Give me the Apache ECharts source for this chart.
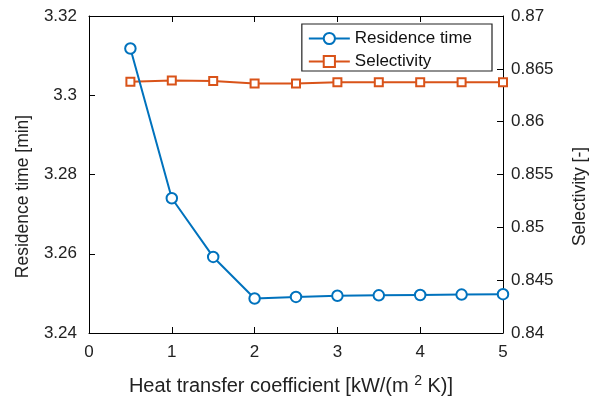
<!DOCTYPE html>
<html>
<head>
<meta charset="utf-8">
<script src="https://cdn.jsdelivr.net/npm/echarts@6/dist/echarts.min.js"></script>
<style>
  html, body { margin: 0; padding: 0; background: #fff; }
  #chart { width: 598px; height: 399px; }
</style>
</head>
<body>
<div id="chart"></div>
<script>
// Heat transfer coefficient, kW/(m^2 K)
const heatCoeff = [0.5, 1, 1.5, 2, 2.5, 3, 3.5, 4, 4.5, 5];
// Residence time, min (left axis)
const residenceTime = [3.3118, 3.2740, 3.2592, 3.2487, 3.2491, 3.2494, 3.2495, 3.2496, 3.2497, 3.2498];
// Selectivity, - (right axis)
const selectivity = [0.86377, 0.86390, 0.86386, 0.86361, 0.86361, 0.86374, 0.86374, 0.86374, 0.86374, 0.86374];

const FONT = '"Liberation Sans", Arial, Helvetica, sans-serif';
const BLUE = '#0072BD';
const ORANGE = '#D95319';

const pairs = (xs, ys) => xs.map((x, i) => [x, ys[i]]);

const axisLine = { show: true, onZero: false, lineStyle: { color: '#000', width: 1 } };
const tickIn = { show: true, inside: true, length: 6, lineStyle: { color: '#000', width: 1 } };
const labelStyle = { color: '#222', fontFamily: FONT, fontSize: 17 };
// y-axis titles sit slightly below the axis midpoint
const yNameStyle = { color: '#222', fontFamily: FONT, fontSize: 17.5, padding: [0, 44, 0, 0] };

const chart = echarts.init(document.getElementById('chart'), null, { renderer: 'canvas' });
chart.setOption({
  animation: false,
  backgroundColor: '#fff',
  grid: { left: 89, right: 95, top: 16, bottom: 66, containLabel: false, outerBoundsMode: 'none' },
  legend: {
    right: 106, top: 24,
    orient: 'vertical',
    backgroundColor: '#fff',
    borderColor: '#222', borderWidth: 1.2,
    padding: [6, 20, 1, 6],
    itemGap: 6,
    itemWidth: 41, itemHeight: 14,
    textStyle: { color: '#111', fontFamily: FONT, fontSize: 17 },
    data: ['Residence time', 'Selectivity']
  },
  xAxis: [
    {
      type: 'value', min: 0, max: 5, interval: 1, position: 'bottom',
      axisLine, axisTick: tickIn, splitLine: { show: false },
      axisLabel: Object.assign({ margin: 11 }, labelStyle),
      name: 'Heat transfer coefficient [kW/(m {sup|2} K)]',
      nameLocation: 'middle', nameGap: 41,
      nameTextStyle: {
        color: '#222', fontFamily: FONT, fontSize: 20, padding: [0, 10, 0, 0],
        rich: { sup: { fontFamily: FONT, fontSize: 14, color: '#222', verticalAlign: 'top', padding: [0, 0, 11, 0] } }
      }
    },
    {
      type: 'value', min: 0, max: 5, interval: 1, position: 'top',
      axisLine, axisTick: tickIn, axisLabel: { show: false }, splitLine: { show: false }
    }
  ],
  yAxis: [
    {
      type: 'value', min: 3.24, max: 3.32, interval: 0.02, position: 'left',
      axisLine, axisTick: tickIn, splitLine: { show: false },
      axisLabel: Object.assign({ margin: 12, formatter: v => String(+v.toFixed(2)) }, labelStyle),
      name: 'Residence time [min]', nameLocation: 'middle', nameGap: 57, nameRotate: 90,
      nameTextStyle: yNameStyle
    },
    {
      type: 'value', min: 0.84, max: 0.87, interval: 0.005, position: 'right',
      axisLine, axisTick: tickIn, splitLine: { show: false },
      axisLabel: Object.assign({ margin: 8, formatter: v => String(+v.toFixed(3)) }, labelStyle),
      name: 'Selectivity [-]', nameLocation: 'middle', nameGap: 68, nameRotate: 90,
      nameTextStyle: yNameStyle
    }
  ],
  series: [
    {
      name: 'Residence time', type: 'line', xAxisIndex: 0, yAxisIndex: 0,
      data: pairs(heatCoeff, residenceTime),
      symbol: 'emptyCircle', symbolSize: 10.5,
      lineStyle: { color: BLUE, width: 2 },
      itemStyle: { color: BLUE, borderColor: BLUE, borderWidth: 2 },
      z: 3
    },
    {
      name: 'Selectivity', type: 'line', xAxisIndex: 0, yAxisIndex: 1,
      data: pairs(heatCoeff, selectivity),
      symbol: 'emptyRect', symbolSize: 8,
      lineStyle: { color: ORANGE, width: 2 },
      itemStyle: { color: ORANGE, borderColor: ORANGE, borderWidth: 2 },
      z: 2
    }
  ]
});
</script>
</body>
</html>
